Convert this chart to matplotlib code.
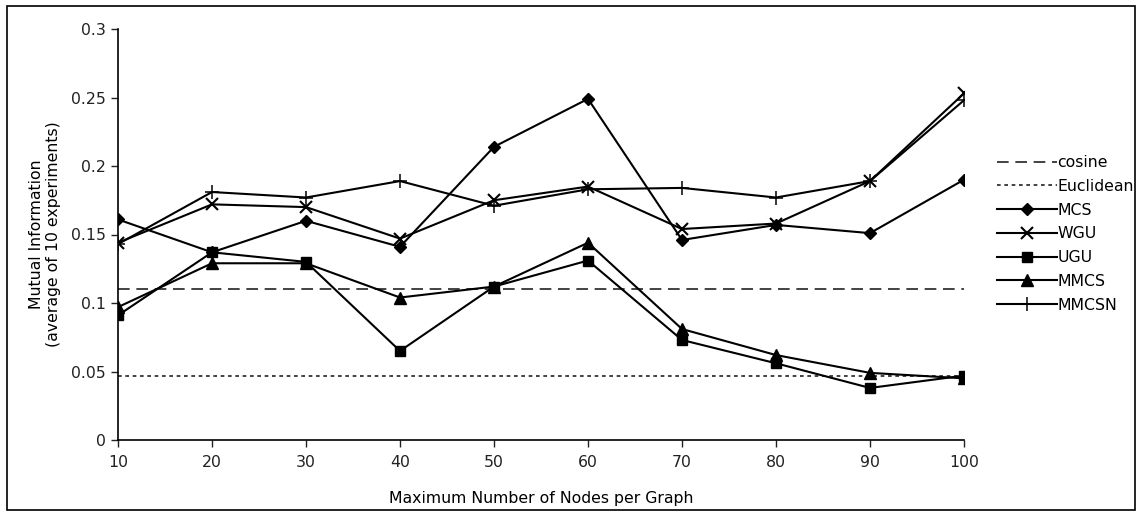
import matplotlib
matplotlib.use('Agg')
import matplotlib.pyplot as plt
from matplotlib.patches import Rectangle

# values
nodes = [10, 20, 30, 40, 50, 60, 70, 80, 90, 100]
cosine = [0.110, 0.110, 0.110, 0.110, 0.110, 0.110, 0.110, 0.110, 0.110, 0.110]
euclidean = [0.0465, 0.0465, 0.0465, 0.0465, 0.0465, 0.0465, 0.0465, 0.0465, 0.0465, 0.0465]
mcs = [0.161, 0.137, 0.160, 0.141, 0.214, 0.249, 0.146, 0.157, 0.151, 0.190]
wgu = [0.144, 0.172, 0.170, 0.147, 0.175, 0.185, 0.154, 0.158, 0.189, 0.253]
ugu = [0.091, 0.137, 0.130, 0.065, 0.112, 0.131, 0.073, 0.056, 0.038, 0.047]
mmcs = [0.097, 0.129, 0.129, 0.104, 0.112, 0.144, 0.081, 0.062, 0.049, 0.045]
mmcsn = [0.143, 0.181, 0.177, 0.189, 0.171, 0.183, 0.184, 0.177, 0.189, 0.248]
yticks = [0, 0.05, 0.1, 0.15, 0.2, 0.25, 0.3]
ytick_labels = ['0', '0.05', '0.1', '0.15', '0.2', '0.25', '0.3']

plt.rcParams['font.family'] = ['DejaVu Sans']
fs = 11.3

W, H = 1143, 516
fig = plt.figure(figsize=(W / 100, H / 100), dpi=100)
ax = fig.add_axes([118 / W, 1 - 440 / H, (964 - 118) / W, (440 - 29) / H])

lw = 1.5
ax.plot(nodes, cosine, color='#222222', lw=1.2, dashes=(7, 4), label='cosine')
ax.plot(nodes, euclidean, color='#222222', lw=1.2, dashes=(2.2, 2.2), label='Euclidean')
ax.plot(nodes, mcs, color='black', lw=lw, marker='D', ms=6.5, label='MCS')
ax.plot(nodes, wgu, color='black', lw=lw, marker='x', ms=8, mew=1.5, label='WGU')
ax.plot(nodes, ugu, color='black', lw=lw, marker='s', ms=7.5, label='UGU')
ax.plot(nodes, mmcs, color='black', lw=lw, marker='^', ms=8, label='MMCS')
ax.plot(nodes, mmcsn, color='black', lw=lw, marker='+', ms=10, mew=1.1, label='MMCSN')

ax.set_xlim(10, 100)
ax.set_ylim(0, 0.3)
ax.set_xticks(nodes)
ax.set_yticks(yticks)
ax.set_yticklabels(ytick_labels)
ax.tick_params(direction='out', length=5, width=1, labelsize=fs, colors='#222222')
ax.tick_params(axis='x', pad=6)
for side in ['top', 'right']:
    ax.spines[side].set_visible(False)
for side in ['left', 'bottom']:
    ax.spines[side].set_linewidth(1.2)
ax.patch.set_alpha(0)

ax.set_xlabel('Maximum Number of Nodes per Graph', fontsize=fs, labelpad=15)
ax.set_ylabel('Mutual Information\n(average of 10 experiments)', fontsize=fs, labelpad=7)

leg = fig.legend(loc='upper left', bbox_to_anchor=(997 / W, 1 - 155 / H), frameon=False,
                 fontsize=fs, handlelength=3.8, handletextpad=0.05, labelspacing=0.56,
                 borderaxespad=0, borderpad=0)

# outer chart frame
fig.add_artist(Rectangle((7 / W, 6 / H), (1135 - 7) / W, (510 - 6) / H,
                         transform=fig.transFigure, fill=False, lw=1.2, ec='black'))

plt.savefig('out.png', dpi=100)
